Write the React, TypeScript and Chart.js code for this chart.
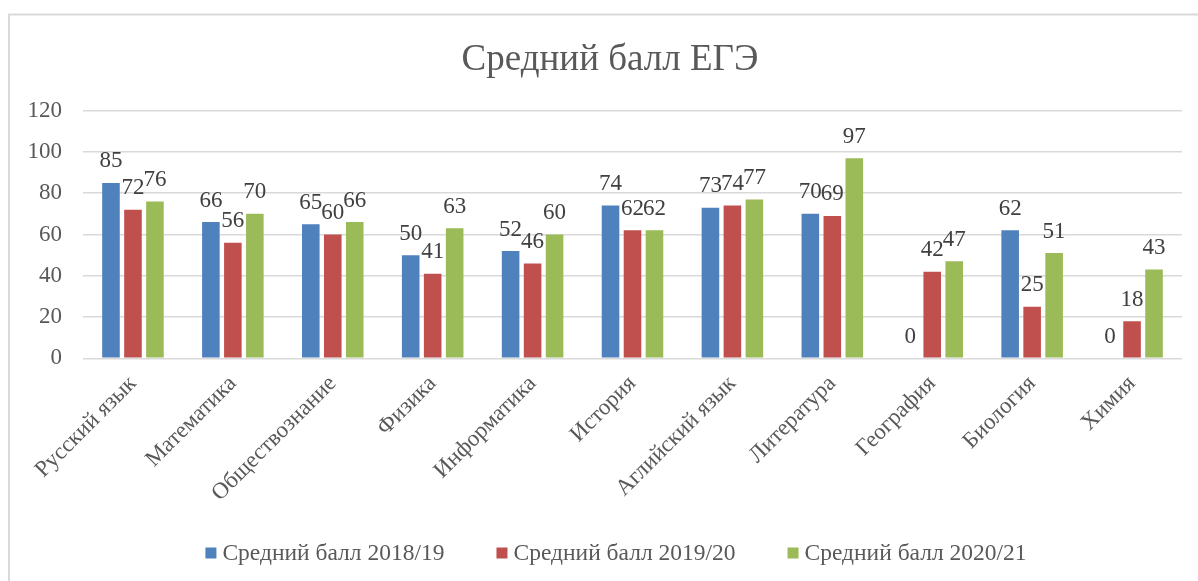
import React, { useEffect, useRef } from 'react';
import { Chart, registerables } from 'chart.js';

Chart.register(...registerables);

const categories = ['Русский язык', 'Математика', 'Обществознание', 'Физика', 'Информатика', 'История', 'Аглийский язык', 'Литература', 'География', 'Биология', 'Химия'];
const scores2018 = [85, 66, 65, 50, 52, 74, 73, 70, 0, 62, 0];
const scores2019 = [72, 56, 60, 41, 46, 62, 74, 69, 42, 25, 18];
const scores2020 = [76, 70, 66, 63, 60, 62, 77, 97, 47, 51, 43];
const seriesLabels = ['Средний балл 2018/19', 'Средний балл 2019/20', 'Средний балл 2020/21'];
const seriesColors = ['#4F81BD', '#C0504D', '#9BBB59'];
const titleText = 'Средний балл ЕГЭ';

const FONT = '"Liberation Serif", "Times New Roman", serif';
const W = 1198;
const H = 581;

const decor = {
  id: 'decor',
  beforeDraw(chart: any) {
    const ctx = chart.ctx;
    ctx.save();
    ctx.fillStyle = '#ffffff';
    ctx.fillRect(0, 0, W, H);
    ctx.strokeStyle = '#d9d9d9';
    ctx.lineWidth = 2;
    ctx.beginPath();
    ctx.moveTo(9, H);
    ctx.lineTo(9, 14.5);
    ctx.lineTo(W, 14.5);
    ctx.stroke();
    ctx.restore();
  },
  afterDatasetsDraw(chart: any) {
    const ctx = chart.ctx;
    ctx.save();
    ctx.font = `23px ${FONT}`;
    ctx.fillStyle = '#404040';
    ctx.textAlign = 'center';
    ctx.textBaseline = 'alphabetic';
    chart.data.datasets.forEach((ds: any, i: number) => {
      const meta = chart.getDatasetMeta(i);
      meta.data.forEach((bar: any, j: number) => {
        ctx.fillText(String(ds.data[j]), bar.x, bar.y - 15.5);
      });
    });
    ctx.restore();
  },
  afterDraw(chart: any) {
    const ctx = chart.ctx;
    ctx.save();
    ctx.font = `37px ${FONT}`;
    ctx.fillStyle = '#595959';
    ctx.textAlign = 'center';
    ctx.textBaseline = 'alphabetic';
    ctx.fillText(titleText, 610, 70);
    ctx.font = `23.5px ${FONT}`;
    ctx.textAlign = 'left';
    const box = 11;
    const gap = 6;
    const spacing = 52;
    const widths = seriesLabels.map((t) => ctx.measureText(t).width);
    const total = widths.reduce((a, w) => a + box + gap + w, 0) + spacing * (seriesLabels.length - 1);
    let x = 616 - total / 2;
    const cy = 553;
    seriesLabels.forEach((t, i) => {
      ctx.fillStyle = seriesColors[i];
      ctx.fillRect(x, cy - box / 2, box, box);
      ctx.fillStyle = '#595959';
      ctx.textBaseline = 'middle';
      ctx.fillText(t, x + box + gap, cy + 1);
      x += box + gap + widths[i] + spacing;
    });
    ctx.restore();
  },
};

export default function App() {
  const ref = useRef<HTMLCanvasElement>(null);
  useEffect(() => {
    if (!ref.current) return;
    const datasetsSrc = [scores2018, scores2019, scores2020];
    const chart = new Chart(ref.current, {
      type: 'bar',
      data: {
        labels: categories,
        datasets: datasetsSrc.map((d, i) => ({
          label: seriesLabels[i],
          data: d,
          backgroundColor: seriesColors[i],
          borderWidth: 0,
          categoryPercentage: 0.66,
          barPercentage: 0.8,
        })),
      },
      options: {
        animation: false,
        responsive: false,
        maintainAspectRatio: false,
        layout: { padding: { left: 10, right: 16, top: 110.7, bottom: 42.7 } },
        plugins: {
          legend: { display: false },
          title: { display: false },
          tooltip: { enabled: false },
        },
        scales: {
          x: {
            grid: { display: false },
            border: { display: false },
            ticks: {
              autoSkip: false,
              maxRotation: 45,
              minRotation: 45,
              padding: 4,
              color: '#595959',
              font: { family: FONT, size: 23 },
            },
            afterFit(scale: any) {
              scale.height = 180;
            },
          },
          y: {
            min: 0,
            max: 120,
            ticks: {
              stepSize: 20,
              padding: 21,
              color: '#595959',
              font: { family: FONT, size: 23 },
            },
            grid: { color: '#d9d9d9', lineWidth: 1.5, drawTicks: false },
            border: { display: false },
            afterFit(scale: any) {
              scale.width = 73;
            },
          },
        },
      },
      plugins: [decor],
    });
    return () => chart.destroy();
  }, []);
  return (
    <div style={{ position: 'fixed', left: 0, top: 0, width: W, height: H, background: '#fff' }}>
      <canvas ref={ref} width={W} height={H} style={{ width: W, height: H, display: 'block' }} />
    </div>
  );
}
